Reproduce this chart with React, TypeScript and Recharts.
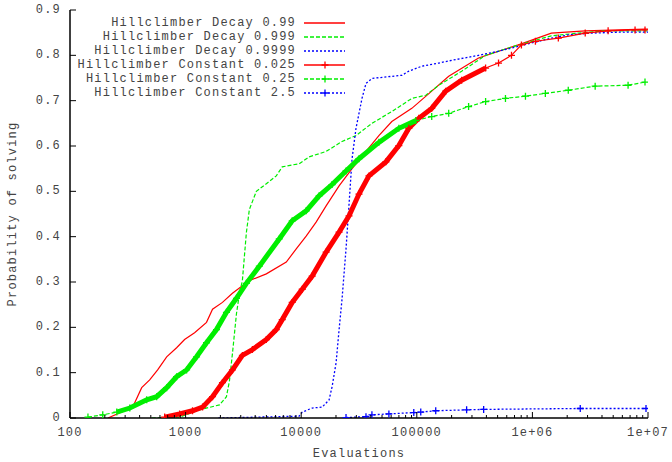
import React from 'react';
import { LineChart, Line, XAxis, YAxis } from 'recharts';

const FONT = '"Liberation Mono", "DejaVu Sans Mono", monospace';
const TEXT = '#444';
const FS = 12;
const LS = 1.2;
const RED = '#ff0000';
const GREEN = '#00ee00';
const BLUE = '#0000ff';

// ---- series names ----
const seriesNames = [
  'Hillclimber Decay 0.99',
  'Hillclimber Decay 0.999',
  'Hillclimber Decay 0.9999',
  'Hillclimber Constant 0.025',
  'Hillclimber Constant 0.25',
  'Hillclimber Constant 2.5',
];

// ---- Hillclimber Decay 0.99 ----
const decay099Evals = [213, 349, 417, 489, 573, 686, 836, 980, 1196, 1517, 1710, 2084, 2542, 3561, 4992, 7430, 9058, 11040, 13460, 16430, 21270, 27540, 36340, 46990, 60810, 90560, 134600, 188800, 342100, 509300, 756800, 1458000, 2864000, 9420000, 10000000];
const decay099Prob = [0, 0.024, 0.067, 0.084, 0.106, 0.135, 0.155, 0.173, 0.188, 0.211, 0.240, 0.255, 0.275, 0.303, 0.318, 0.344, 0.373, 0.401, 0.432, 0.468, 0.512, 0.550, 0.588, 0.623, 0.654, 0.683, 0.721, 0.754, 0.794, 0.809, 0.823, 0.849, 0.854, 0.858, 0.858];

// ---- Hillclimber Decay 0.999 ----
const decay0999Evals = [509, 887, 1321, 1964, 2256, 2395, 2542, 2754, 2924, 3099, 3355, 3561, 4093, 4611, 6086, 6855, 9610, 11720, 16430, 22550, 29790, 40910, 60810, 90560, 119700, 154900, 244400, 393700, 509300, 756800, 1458000, 2494000, 4256000, 10000000];
const decay0999Prob = [0, 0.002, 0.018, 0.029, 0.047, 0.082, 0.142, 0.230, 0.275, 0.303, 0.409, 0.460, 0.500, 0.510, 0.534, 0.554, 0.561, 0.576, 0.588, 0.610, 0.623, 0.650, 0.676, 0.705, 0.712, 0.734, 0.765, 0.800, 0.809, 0.823, 0.843, 0.849, 0.854, 0.854];

// ---- Hillclimber Decay 0.9999 ----
const decay09999Evals = [1925, 9610, 10210, 12450, 15180, 17430, 18500, 20040, 21270, 22550, 24420, 25940, 27540, 29790, 33560, 36340, 40910, 74290, 85310, 110400, 154900, 200600, 342100, 509300, 756800, 1458000, 2043000, 3226000, 5508000, 10000000];
const decay09999Prob = [0, 0.004, 0.013, 0.022, 0.024, 0.040, 0.069, 0.122, 0.195, 0.262, 0.373, 0.472, 0.572, 0.639, 0.705, 0.738, 0.749, 0.756, 0.765, 0.776, 0.783, 0.789, 0.800, 0.809, 0.820, 0.838, 0.845, 0.849, 0.851, 0.851];

// ---- Hillclimber Constant 0.025 ----
const const0025Evals = [659, 887, 1148, 1402, 1710, 2084, 2542, 3099, 3784, 4992, 6086, 6855, 8358, 10210, 12450, 16430, 21270, 25940, 31620, 38550, 54060, 69950, 85310, 104000, 134600, 177800, 244400, 393700, 509300, 659200, 803500, 1062000, 1676000, 2864000, 4519000, 7727000, 9420000];
const const0025Prob = [0.002, 0.009, 0.016, 0.024, 0.047, 0.078, 0.106, 0.138, 0.151, 0.173, 0.195, 0.217, 0.255, 0.284, 0.313, 0.366, 0.410, 0.446, 0.494, 0.534, 0.565, 0.601, 0.639, 0.661, 0.683, 0.721, 0.745, 0.772, 0.783, 0.800, 0.823, 0.831, 0.838, 0.849, 0.854, 0.856, 0.856];

// ---- Hillclimber Constant 0.25 ----
const const025Evals = [143, 192, 254, 329, 461, 562, 686, 836, 1020, 1244, 1517, 1850, 2256, 2754, 3355, 4345, 6457, 8358, 11040, 14290, 18500, 24420, 31620, 46990, 69950, 97980, 134600, 188800, 280600, 393700, 584800, 871000, 1294000, 2043000, 3491000, 6724000, 9420000];
const const025Prob = [0.002, 0.007, 0.013, 0.022, 0.040, 0.047, 0.067, 0.091, 0.106, 0.135, 0.166, 0.195, 0.233, 0.264, 0.297, 0.335, 0.395, 0.435, 0.457, 0.490, 0.515, 0.545, 0.572, 0.608, 0.639, 0.656, 0.665, 0.672, 0.687, 0.698, 0.705, 0.710, 0.716, 0.723, 0.732, 0.734, 0.741];

// ---- Hillclimber Constant 2.5 ----
const const25Evals = [24420, 36340, 40910, 57360, 94170, 108200, 145800, 269800, 378700, 2594000, 9610000];
const const25Prob = [0.001, 0.003, 0.007, 0.009, 0.012, 0.013, 0.016, 0.018, 0.019, 0.021, 0.021];

// ---- ticks ----
const xMajorTicks = [100, 1000, 10000, 100000, 1000000, 10000000];
const xTickLabels = ['100', '1000', '10000', '100000', '1e+06', '1e+07'];
const xMinorMultipliers = [2, 3, 4, 5, 6, 7, 8, 9];
const yTicks = [0, 0.1, 0.2, 0.3, 0.4, 0.5, 0.6, 0.7, 0.8, 0.9];
const yTickLabels = ['0', '0.1', '0.2', '0.3', '0.4', '0.5', '0.6', '0.7', '0.8', '0.9'];

const xAllTicks = [
  ...xMajorTicks,
  ...xMajorTicks.slice(0, -1).flatMap((m) => xMinorMultipliers.map((k) => m * k)),
].sort((a, b) => a - b);

const toRows = (xs: number[], ys: number[]) => xs.map((x, i) => ({ x, y: ys[i] }));

const decay099 = toRows(decay099Evals, decay099Prob);
const decay0999 = toRows(decay0999Evals, decay0999Prob);
const decay09999 = toRows(decay09999Evals, decay09999Prob);
const const0025 = toRows(const0025Evals, const0025Prob);
const const025 = toRows(const025Evals, const025Prob);
const const25 = toRows(const25Evals, const25Prob);

// dense parts (rendered as a thick band, like gnuplot's overlapping crosses)
const const0025Dense = const0025.filter((d) => d.x <= 400000);
const const025Dense = const025.filter((d) => d.x >= 250 && d.x <= 100000);

const makeCross = (color: string) => (props: any) => {
  const { cx, cy, index } = props;
  if (cx == null || cy == null) return <g key={`c-${index}`} />;
  return (
    <path
      key={`c-${index}`}
      d={`M${cx - 3.5},${cy}h7M${cx},${cy - 3.5}v7`}
      stroke={color}
      strokeWidth={1.3}
      fill="none"
    />
  );
};

const BottomTick = (props: any) => {
  const { x, y, payload } = props;
  const idx = xMajorTicks.indexOf(payload.value);
  const major = idx >= 0;
  return (
    <g>
      <line x1={x} x2={x} y1={y} y2={y - (major ? 6 : 3)} stroke="#000" strokeWidth={1} />
      {major && (
        <text x={x} y={y + 15} textAnchor="middle" dominantBaseline="central" fontFamily={FONT} fontSize={FS} letterSpacing={LS} fill={TEXT}>
          {xTickLabels[idx]}
        </text>
      )}
    </g>
  );
};

const TopTick = (props: any) => {
  const { x, y, payload } = props;
  const major = xMajorTicks.indexOf(payload.value) >= 0;
  return <line x1={x} x2={x} y1={y} y2={y + (major ? 6 : 3)} stroke="#000" strokeWidth={1} />;
};

const LeftTick = (props: any) => {
  const { x, y, payload } = props;
  const idx = yTicks.indexOf(payload.value);
  return (
    <g>
      <line x1={x} x2={x + 6} y1={y} y2={y} stroke="#000" strokeWidth={1} />
      <text x={x - 9} y={y} textAnchor="end" dominantBaseline="central" fontFamily={FONT} fontSize={FS} letterSpacing={LS} fill={TEXT}>
        {yTickLabels[idx]}
      </text>
    </g>
  );
};

const RightTick = (props: any) => {
  const { x, y } = props;
  return <line x1={x} x2={x - 6} y1={y} y2={y} stroke="#000" strokeWidth={1} />;
};

const legendStyles = [
  { color: RED, dash: undefined, marker: false },
  { color: GREEN, dash: '4 2', marker: false },
  { color: BLUE, dash: '2 2', marker: false },
  { color: RED, dash: undefined, marker: true },
  { color: GREEN, dash: '4 2', marker: true },
  { color: BLUE, dash: '2 2', marker: true },
];

const W = 672;
const H = 462;

export default function App() {
  return (
    <div style={{ position: 'fixed', left: 0, top: 0, width: W, height: H, background: '#fff' }}>
      <LineChart width={W} height={H} margin={{ top: 10, right: 24, bottom: 0, left: 0 }}>
        <XAxis
          dataKey="x"
          type="number"
          scale="log"
          domain={[100, 10000000]}
          allowDataOverflow
          ticks={xAllTicks}
          interval={0}
          height={44}
          tickSize={0}
          tickMargin={0}
          tickLine={false}
          axisLine={{ stroke: '#000', strokeWidth: 1.5 }}
          tick={BottomTick}
        />
        <XAxis
          xAxisId="top"
          orientation="top"
          dataKey="x"
          type="number"
          scale="log"
          domain={[100, 10000000]}
          allowDataOverflow
          ticks={xAllTicks}
          interval={0}
          height={0}
          tickSize={0}
          tickMargin={0}
          tickLine={false}
          axisLine={{ stroke: '#000', strokeWidth: 1.5 }}
          tick={TopTick}
        />
        <YAxis
          type="number"
          domain={[0, 0.9]}
          allowDataOverflow
          ticks={yTicks}
          interval={0}
          width={70}
          tickSize={0}
          tickMargin={0}
          tickLine={false}
          axisLine={{ stroke: '#000', strokeWidth: 1.5 }}
          tick={LeftTick}
        />
        <YAxis
          yAxisId="right"
          orientation="right"
          type="number"
          domain={[0, 0.9]}
          allowDataOverflow
          ticks={yTicks}
          interval={0}
          width={0}
          tickSize={0}
          tickMargin={0}
          tickLine={false}
          axisLine={{ stroke: '#000', strokeWidth: 1.5 }}
          tick={RightTick}
        />

        <Line data={decay099} dataKey="y" type="linear" stroke={RED} strokeWidth={1.2} dot={false} isAnimationActive={false} />
        <Line data={decay0999} dataKey="y" type="linear" stroke={GREEN} strokeWidth={1.2} strokeDasharray="4 2" dot={false} isAnimationActive={false} />
        <Line data={decay09999} dataKey="y" type="linear" stroke={BLUE} strokeWidth={1.3} strokeDasharray="2 2" dot={false} isAnimationActive={false} />

        <Line data={const0025Dense} dataKey="y" type="linear" stroke={RED} strokeWidth={5} dot={false} isAnimationActive={false} />
        <Line data={const0025} dataKey="y" type="linear" stroke={RED} strokeWidth={1.2} dot={makeCross(RED)} isAnimationActive={false} />

        <Line data={const025Dense} dataKey="y" type="linear" stroke={GREEN} strokeWidth={5} dot={false} isAnimationActive={false} />
        <Line data={const025} dataKey="y" type="linear" stroke={GREEN} strokeWidth={1.2} strokeDasharray="4 2" dot={makeCross(GREEN)} isAnimationActive={false} />

        <Line data={const25} dataKey="y" type="linear" stroke={BLUE} strokeWidth={1.3} strokeDasharray="2 2" dot={makeCross(BLUE)} isAnimationActive={false} />
      </LineChart>

      <svg width={W} height={H} style={{ position: 'absolute', left: 0, top: 0, pointerEvents: 'none' }}>
        {seriesNames.map((name, i) => {
          const cy = 23 + i * 14;
          const st = legendStyles[i];
          return (
            <g key={name}>
              <text x={296} y={cy} textAnchor="end" dominantBaseline="central" fontFamily={FONT} fontSize={FS} letterSpacing={LS} fill={TEXT}>
                {name}
              </text>
              <line x1={304} x2={345} y1={cy} y2={cy} stroke={st.color} strokeWidth={1.3} strokeDasharray={st.dash} />
              {st.marker && <path d={`M${321.5},${cy}h7M${325},${cy - 3.5}v7`} stroke={st.color} strokeWidth={1.3} />}
            </g>
          );
        })}
        <text x={359} y={454} textAnchor="middle" dominantBaseline="central" fontFamily={FONT} fontSize={FS} letterSpacing={LS} fill={TEXT}>
          Evaluations
        </text>
        <text
          x={13}
          y={214}
          textAnchor="middle"
          dominantBaseline="central"
          fontFamily={FONT}
          fontSize={FS}
          letterSpacing={LS}
          fill={TEXT}
          transform="rotate(-90 13 214)"
        >
          Probability of solving
        </text>
      </svg>
    </div>
  );
}
